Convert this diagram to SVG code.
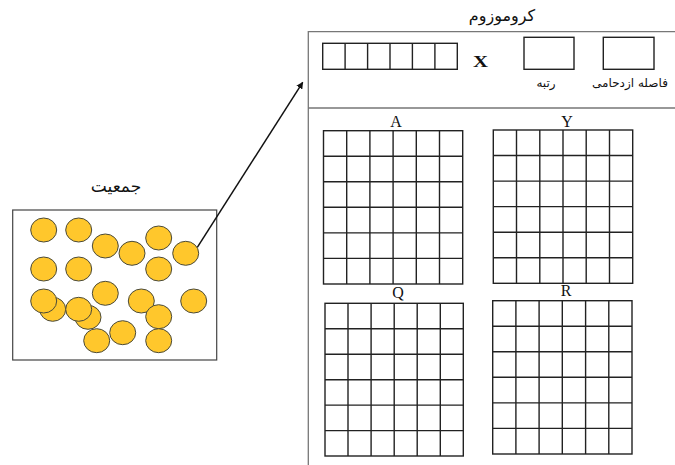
<svg xmlns="http://www.w3.org/2000/svg" width="675" height="465" viewBox="0 0 675 465">
<style>
.g{fill:none;stroke:#222;stroke-width:1.4}
.frame{fill:none;stroke:#777;stroke-width:1.3}
.c{fill:#FFC72C;stroke:#4a4a3a;stroke-width:1}
.lt{font-family:"Liberation Serif",serif;font-size:16px;fill:#111;text-anchor:middle}
.fa{font-family:"DejaVu Sans","Noto Sans",sans-serif;fill:#111;text-anchor:middle}
</style>
<defs>
<marker id="ah" viewBox="0 0 10 10" refX="9" refY="5" markerWidth="7" markerHeight="7" orient="auto" markerUnits="userSpaceOnUse">
<path d="M0,0 L10,5 L0,10 z" fill="#111"/>
</marker>
</defs>
<rect width="675" height="465" fill="#fff"/>

<g id="population">
<text class="fa" x="116" y="192" font-size="17">جمعیت</text>
<rect x="12.7" y="210" width="204" height="150" fill="none" stroke="#444" stroke-width="1.2"/>
<ellipse class="c" cx="43.7" cy="230" rx="13" ry="12"/>
<ellipse class="c" cx="78.7" cy="230" rx="13" ry="12"/>
<ellipse class="c" cx="105.3" cy="246" rx="13" ry="12"/>
<ellipse class="c" cx="132" cy="253.3" rx="13" ry="12"/>
<ellipse class="c" cx="158.7" cy="238" rx="13" ry="12"/>
<ellipse class="c" cx="185.7" cy="253.3" rx="13" ry="12"/>
<ellipse class="c" cx="43.7" cy="269" rx="13" ry="12"/>
<ellipse class="c" cx="78.7" cy="269" rx="13" ry="12"/>
<ellipse class="c" cx="158.7" cy="269" rx="13" ry="12"/>
<ellipse class="c" cx="52.7" cy="309.3" rx="13" ry="12"/>
<ellipse class="c" cx="43.7" cy="301" rx="13" ry="12"/>
<ellipse class="c" cx="88" cy="317.3" rx="13" ry="12"/>
<ellipse class="c" cx="78.7" cy="309.3" rx="13" ry="12"/>
<ellipse class="c" cx="105.3" cy="293.3" rx="13" ry="12"/>
<ellipse class="c" cx="141.3" cy="301" rx="13" ry="12"/>
<ellipse class="c" cx="193.7" cy="301" rx="13" ry="12"/>
<ellipse class="c" cx="158.7" cy="316.7" rx="13" ry="12"/>
<ellipse class="c" cx="122.7" cy="332.7" rx="13" ry="12"/>
<ellipse class="c" cx="96.7" cy="340.7" rx="13" ry="12"/>
<ellipse class="c" cx="158.7" cy="340.7" rx="13" ry="12"/>
</g>

<g id="connectors">
<line x1="197.3" y1="247.3" x2="302.7" y2="82.3" stroke="#111" stroke-width="1.5" marker-end="url(#ah)"/>
</g>

<g id="chromosome">
<text class="fa" x="502" y="21" font-size="16">کروموزوم</text>
<path class="frame" d="M675,31.7 H308.3 V465 M308.3,108 H675"/>
<g id="genes">
<rect class="g" x="322.7" y="43.3" width="134.6" height="26"/>
<path class="g" d="M345.1,43.3 V69.3 M367.6,43.3 V69.3 M390,43.3 V69.3 M412.4,43.3 V69.3 M434.9,43.3 V69.3"/>
</g>
<text class="lt" x="0" y="0" font-size="16" font-weight="bold" transform="translate(480.5,66.5) scale(1.3,1)">X</text>
<g id="rank">
<rect class="g" x="524" y="37.3" width="50" height="32"/>
<text class="fa" x="546" y="87" font-size="12">رتبه</text>
</g>
<g id="crowding">
<rect class="g" x="603.3" y="37.3" width="50.7" height="32"/>
<text class="fa" x="630" y="87" font-size="12">فاصله ازدحامی</text>
</g>
</g>

<g id="gridA">
<text class="lt" x="396" y="127" font-size="17">A</text>
<rect class="g" x="323.5" y="130.7" width="139.2" height="153.3"/>
<path class="g" d="M346.7,130.7 V284 M369.9,130.7 V284 M393.1,130.7 V284 M416.3,130.7 V284 M439.5,130.7 V284 M323.5,156.2 H462.7 M323.5,181.8 H462.7 M323.5,207.3 H462.7 M323.5,232.9 H462.7 M323.5,258.4 H462.7"/>
</g>
<g id="gridY">
<text class="lt" x="567" y="127" font-size="17">Y</text>
<rect class="g" x="493.3" y="130" width="139.4" height="153.3"/>
<path class="g" d="M516.5,130 V283.3 M539.8,130 V283.3 M563,130 V283.3 M586.2,130 V283.3 M609.5,130 V283.3 M493.3,155.5 H632.7 M493.3,181.1 H632.7 M493.3,206.6 H632.7 M493.3,232.2 H632.7 M493.3,257.7 H632.7"/>
</g>
<g id="gridQ">
<text class="lt" x="398" y="298" font-size="17">Q</text>
<rect class="g" x="325" y="303.3" width="138.3" height="152.7"/>
<path class="g" d="M348,303.3 V456 M371.1,303.3 V456 M394.2,303.3 V456 M417.2,303.3 V456 M440.3,303.3 V456 M325,328.8 H463.3 M325,354.2 H463.3 M325,379.7 H463.3 M325,405.1 H463.3 M325,430.6 H463.3"/>
</g>
<g id="gridR">
<text class="lt" x="566" y="296" font-size="17">R</text>
<rect class="g" x="492.7" y="300.7" width="139.3" height="153.3"/>
<path class="g" d="M515.9,300.7 V454 M539.1,300.7 V454 M562.3,300.7 V454 M585.6,300.7 V454 M608.8,300.7 V454 M492.7,326.2 H632 M492.7,351.8 H632 M492.7,377.3 H632 M492.7,402.9 H632 M492.7,428.4 H632"/>
</g>
</svg>
